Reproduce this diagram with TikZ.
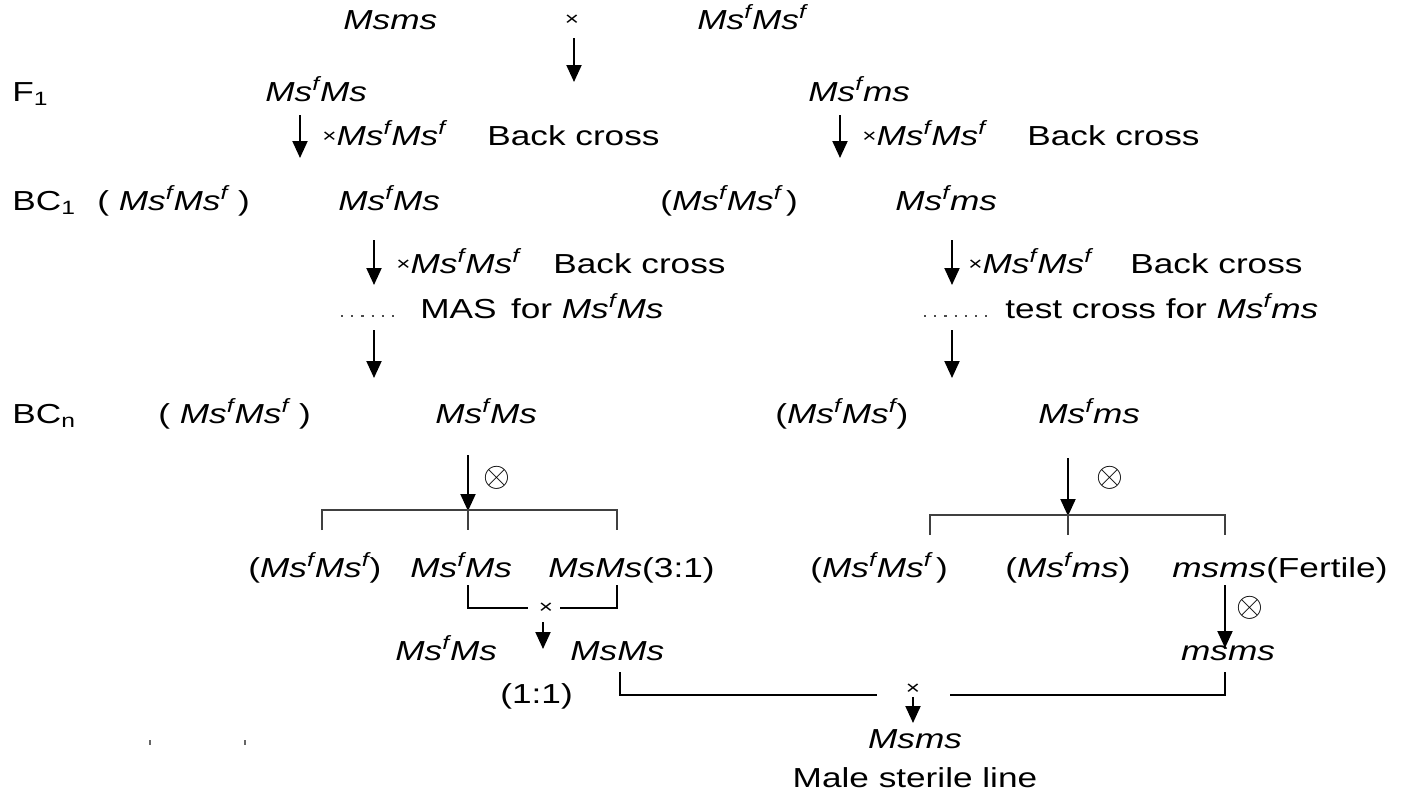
\documentclass[tikz,border=0pt]{standalone}
\usepackage{fontspec}
\setmainfont[FakeStretch=1.28]{Liberation Sans}
\usetikzlibrary{arrows.meta}
\tikzset{
  txt/.style={anchor=base west, inner sep=0pt, font=\fontsize{13.75}{16}\selectfont},
  ctxt/.style={anchor=base, inner sep=0pt, font=\fontsize{13.75}{16}\selectfont},
  crossmark/.style={anchor=base, inner sep=0pt, font=\fontsize{9.5}{10}\selectfont},
  selfmark/.style={anchor=center, inner sep=0pt, font=\fontsize{17}{18}\selectfont},
  arr/.style={line width=1pt, -{Triangle[length=8.5pt,width=7.5pt]}},
  brk/.style={line width=1.3pt, draw=black!75},
  dots/.style={line width=1.1pt, draw=black!70, dash pattern=on 1.1pt off 4pt},
}
\newcommand\FF{\textit{Ms\textsuperscript{f}Ms\textsuperscript{f}}}
\newcommand\FM{\textit{Ms\textsuperscript{f}Ms}}
\newcommand\Fm{\textit{Ms\textsuperscript{f}ms}}
\newcommand\Xs{{\fontsize{9.5}{10}\selectfont\raisebox{1.5pt}{×}}}
\begin{document}
\begin{tikzpicture}[x=0.5pt,y=-0.5pt]
\useasboundingbox (0,0) rectangle (1410,794);

% Parents
\node[txt] (p1) at (343,29) {\textit{Msms}};
\node[crossmark] (px) at (572,25) {×};
\node[txt] (p2) at (697,29) {\FF};
\coordinate (a0s) at (574,38); \coordinate (a0e) at (574,82);
\draw[arr] (a0s) -- (a0e);

% F1
\node[txt] (lF1) at (12,101) {F\textsubscript{1}};
\node[txt] (f1a) at (265,101) {\FM};
\node[txt] (f1b) at (808,101) {\Fm};
\coordinate (a1s) at (300,115); \coordinate (a1e) at (300,158);
\coordinate (a2s) at (840,115); \coordinate (a2e) at (840,158);
\draw[arr] (a1s) -- (a1e);
\draw[arr] (a2s) -- (a2e);
\node[txt] (bx1) at (322,145) {\Xs\FF};
\node[txt] (bc1) at (487,145) {Back cross};
\node[txt] (bx2) at (862,145) {\Xs\FF};
\node[txt] (bc2) at (1027,145) {Back cross};

% BC1
\node[txt] (lBC1) at (12,210) {BC\textsubscript{1}};
\node[txt] (b1p) at (97,210) {( \FF\ )};
\node[txt] (b1a) at (338,210) {\FM};
\node[txt] (b1q) at (660,210) {(\FF\,)};
\node[txt] (b1b) at (895,210) {\Fm};
\coordinate (a3s) at (374,240); \coordinate (a3e) at (374,285);
\coordinate (a4s) at (952,240); \coordinate (a4e) at (952,285);
\draw[arr] (a3s) -- (a3e);
\draw[arr] (a4s) -- (a4e);
\node[txt] (bx3) at (396,273) {\Xs\FF};
\node[txt] (bc3) at (553,273) {Back cross};
\node[txt] (bx4) at (968,273) {\Xs\FF};
\node[txt] (bc4) at (1130,273) {Back cross};
\coordinate (d1s) at (341,316); \coordinate (d1e) at (402,316);
\coordinate (d2s) at (924,316); \coordinate (d2e) at (988,316);
\draw[dots] (d1s) -- (d1e);
\draw[dots] (d2s) -- (d2e);
\node[txt] (mas) at (420,318) {MAS\, for \FM};
\node[txt] (tc) at (1005,318) {test cross for \Fm};
\coordinate (a5s) at (374,330); \coordinate (a5e) at (374,378);
\coordinate (a6s) at (952,330); \coordinate (a6e) at (952,378);
\draw[arr] (a5s) -- (a5e);
\draw[arr] (a6s) -- (a6e);

% BCn
\node[txt] (lBCn) at (12,423) {BC\textsubscript{n}};
\node[txt] (bnp) at (158,423) {( \FF\ )};
\node[txt] (bna) at (435,423) {\FM};
\node[txt] (bnq) at (775,423) {(\FF)};
\node[txt] (bnb) at (1038,423) {\Fm};

% left selfing
\coordinate (a7s) at (468,455); \coordinate (a7e) at (468,511);
\draw[arr] (a7s) -- (a7e);
\node[selfmark] (s1) at (497,478) {$\otimes$};
\coordinate (l1) at (322,530); \coordinate (l2) at (322,510);
\coordinate (l3) at (617,510); \coordinate (l4) at (617,530);
\coordinate (l5) at (468,510); \coordinate (l6) at (468,530);
\draw[brk] (l1) -- (l2) -- (l3) -- (l4);
\draw[brk] (l5) -- (l6);

% right selfing
\coordinate (a8s) at (1068,458); \coordinate (a8e) at (1068,516);
\draw[arr] (a8s) -- (a8e);
\node[selfmark] (s2) at (1110,478) {$\otimes$};
\coordinate (r1) at (930,535); \coordinate (r2) at (930,515);
\coordinate (r3) at (1225,515); \coordinate (r4) at (1225,535);
\coordinate (r5) at (1068,515); \coordinate (r6) at (1068,535);
\draw[brk] (r1) -- (r2) -- (r3) -- (r4);
\draw[brk] (r5) -- (r6);

% children
\node[txt] (c1) at (248,577) {(\FF)};
\node[txt] (c2) at (410,577) {\FM};
\node[txt] (c3) at (548,577) {\textit{MsMs}(3:1)};
\node[txt] (c4) at (810,577) {(\FF\,)};
\node[txt] (c5) at (1005,577) {(\Fm)};
\node[txt] (c6) at (1172,577) {\textit{msms}(Fertile)};

% left cross of children
\coordinate (m1) at (468,585); \coordinate (m2) at (468,608);
\coordinate (m3) at (528,608); \coordinate (m4) at (560,608);
\coordinate (m5) at (617,608); \coordinate (m6) at (617,585);
\draw[line width=1pt] (m1) -- (m2) -- (m3);
\draw[line width=1pt] (m4) -- (m5) -- (m6);
\node[crossmark] (cx1) at (546,613) {×};
\coordinate (a9s) at (543,622); \coordinate (a9e) at (543,649);
\draw[arr] (a9s) -- (a9e);

% right selfing of msms
\coordinate (a10s) at (1225,585); \coordinate (a10e) at (1225,648);
\draw[arr] (a10s) -- (a10e);
\node[selfmark] (s3) at (1250,608) {$\otimes$};

% next row
\node[txt] (g1) at (395,660) {\FM};
\node[txt] (g2) at (570,660) {\textit{MsMs}};
\node[ctxt] (g3) at (1228,660) {\textit{msms}};
\node[txt] (ratio) at (500,703) {(1:1)};

% final cross
\coordinate (f1) at (620,672); \coordinate (f2) at (620,695);
\coordinate (f3) at (877,695); \coordinate (f4) at (950,695);
\coordinate (f5) at (1225,695); \coordinate (f6) at (1225,672);
\draw[line width=1pt] (f1) -- (f2) -- (f3);
\draw[line width=1pt] (f4) -- (f5) -- (f6);
\node[crossmark] (fx) at (913,694) {×};
\coordinate (a11s) at (913,697); \coordinate (a11e) at (913,723);
\draw[arr] (a11s) -- (a11e);
\node[ctxt] (res) at (915,748) {\textit{Msms}};
\node[ctxt] (msl) at (915,787) {Male sterile line};

% small stray marks
\coordinate (t1s) at (150,740); \coordinate (t1e) at (150,745);
\coordinate (t2s) at (245,740); \coordinate (t2e) at (245,745);
\draw[line width=0.6pt, black!60] (t1s) -- (t1e);
\draw[line width=0.6pt, black!60] (t2s) -- (t2e);
\end{tikzpicture}
\end{document}
